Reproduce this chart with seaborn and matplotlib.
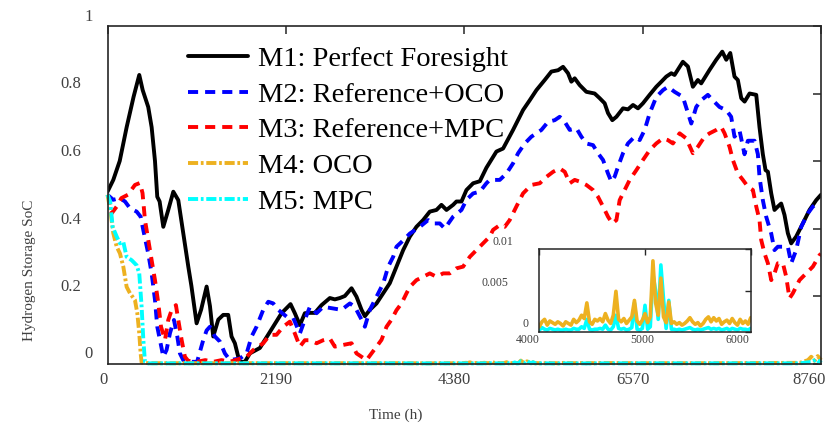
import numpy as np
import matplotlib
matplotlib.use("Agg")
import matplotlib.pyplot as plt
import matplotlib.transforms as mtrans
import seaborn as sns

# ---------------- data ----------------
m1_hours = [0, 71, 150, 235, 320, 390, 432, 500, 542, 583, 611, 640, 685, 746, 808, 869, 930, 992,
            1030, 1094, 1150, 1217, 1258, 1298, 1360, 1421, 1482, 1523, 1564, 1605, 1625, 1687, 1748,
            1871, 2034, 2137, 2247, 2300, 2362, 2423, 2485, 2546, 2628, 2730, 2791, 2853, 2914, 2996,
            3057, 3119, 3160, 3221, 3303, 3385, 3466, 3548, 3630, 3712, 3793, 3875, 3957, 4039, 4100,
            4162, 4243, 4284, 4346, 4407, 4489, 4571, 4652, 4775, 4857, 4979, 5102, 5184, 5266, 5368,
            5450, 5532, 5593, 5654, 5695, 5736, 5797, 5879, 5981, 6043, 6104, 6145, 6198, 6248, 6329,
            6390, 6452, 6513, 6574, 6656, 6738, 6800, 6860, 6922, 6962, 7064, 7126, 7187, 7248, 7289,
            7392, 7474, 7548, 7597, 7646, 7698, 7739, 7781, 7822, 7883, 7965, 8005, 8046, 8079, 8108,
            8149, 8189, 8230, 8271, 8312, 8353, 8394, 8455, 8537, 8619, 8701, 8760]
m1_soc = [0.509, 0.544, 0.60, 0.70, 0.79, 0.855, 0.81, 0.76, 0.70, 0.60, 0.494, 0.48, 0.405, 0.455,
          0.509, 0.484, 0.386, 0.287, 0.23, 0.119, 0.16, 0.228, 0.17, 0.08, 0.13, 0.144, 0.144, 0.08,
          0.06, 0.02, 0.005, 0.005, 0.03, 0.046, 0.109, 0.149, 0.176, 0.149, 0.114, 0.149, 0.15, 0.15,
          0.173, 0.194, 0.19, 0.194, 0.20, 0.223, 0.198, 0.159, 0.14, 0.159, 0.178, 0.208, 0.238,
          0.287, 0.336, 0.376, 0.405, 0.425, 0.45, 0.455, 0.47, 0.455, 0.47, 0.48, 0.48, 0.514, 0.534,
          0.54, 0.58, 0.628, 0.637, 0.692, 0.751, 0.78, 0.81, 0.84, 0.865, 0.869, 0.879, 0.86, 0.835,
          0.845, 0.825, 0.805, 0.80, 0.786, 0.771, 0.742, 0.721, 0.731, 0.756, 0.753, 0.766, 0.756,
          0.771, 0.796, 0.82, 0.835, 0.85, 0.86, 0.855, 0.894, 0.88, 0.82, 0.84, 0.83, 0.87, 0.90,
          0.924, 0.90, 0.92, 0.85, 0.84, 0.786, 0.776, 0.80, 0.796, 0.70, 0.62, 0.573, 0.568, 0.504,
          0.455, 0.465, 0.474, 0.44, 0.386, 0.356, 0.376, 0.415, 0.455, 0.484, 0.50]

m2_hours = [0, 70, 150, 215, 276, 358, 407, 439, 500, 542, 583, 611, 644, 685, 725, 767, 816, 857,
            889, 930, 1000, 1100, 1176, 1217, 1258, 1319, 1380, 1441, 1503, 1626, 1708, 1769, 1830,
            1912, 1974, 2035, 2096, 2198, 2280, 2362, 2423, 2485, 2567, 2648, 2771, 2873, 2976, 3037,
            3119, 3160, 3221, 3303, 3385, 3446, 3507, 3548, 3610, 3712, 3835, 3937, 3998, 4080, 4141,
            4243, 4346, 4407, 4489, 4571, 4652, 4693, 4816, 4898, 4979, 5041, 5123, 5204, 5327, 5409,
            5491, 5552, 5614, 5675, 5757, 5818, 5879, 5961, 6022, 6084, 6145, 6186, 6227, 6268, 6329,
            6390, 6472, 6534, 6595, 6656, 6738, 6820, 6881, 6962, 7064, 7167, 7228, 7289, 7371, 7432,
            7514, 7596, 7657, 7698, 7760, 7821, 7862, 7944, 7985, 8005, 8046, 8087, 8149, 8189, 8230,
            8292, 8353, 8394, 8455, 8517, 8599, 8660, 8720]
m2_soc = [0.50, 0.485, 0.49, 0.48, 0.46, 0.45, 0.435, 0.396, 0.326, 0.267, 0.188, 0.109, 0.07, 0.02,
          0.04, 0.09, 0.129, 0.08, 0.03, 0.01, 0.005, 0.005, 0.07, 0.098, 0.109, 0.08, 0.065, 0.03,
          0.01, 0.015, 0.03, 0.08, 0.109, 0.159, 0.183, 0.178, 0.159, 0.139, 0.135, 0.089, 0.13, 0.168,
          0.149, 0.168, 0.163, 0.159, 0.178, 0.168, 0.13, 0.109, 0.159, 0.198, 0.237, 0.287, 0.316,
          0.346, 0.36, 0.385, 0.405, 0.425, 0.415, 0.415, 0.40, 0.435, 0.455, 0.485, 0.504, 0.509,
          0.534, 0.544, 0.544, 0.563, 0.593, 0.623, 0.652, 0.672, 0.692, 0.716, 0.721, 0.731, 0.716,
          0.692, 0.697, 0.672, 0.652, 0.647, 0.623, 0.603, 0.563, 0.539, 0.554, 0.583, 0.623, 0.652,
          0.672, 0.662, 0.692, 0.741, 0.79, 0.81, 0.82, 0.805, 0.79, 0.711, 0.76, 0.78, 0.796, 0.78,
          0.76, 0.751, 0.731, 0.672, 0.69, 0.62, 0.66, 0.66, 0.62, 0.553, 0.484, 0.435, 0.385, 0.336,
          0.346, 0.346, 0.346, 0.297, 0.336, 0.405, 0.445, 0.465, 0.475]

m3_hours = [0, 51, 113, 170, 250, 337, 398, 430, 460, 500, 542, 583, 624, 657, 706, 746, 787, 840,
            869, 910, 950, 990, 1100, 1200, 1300, 1400, 1500, 1708, 1790, 1912, 1994, 2075, 2157, 2239,
            2300, 2362, 2423, 2485, 2567, 2648, 2730, 2791, 2894, 2996, 3057, 3119, 3180, 3242, 3303,
            3364, 3426, 3487, 3548, 3610, 3671, 3712, 3793, 3875, 3957, 4039, 4121, 4202, 4284, 4366,
            4448, 4530, 4612, 4693, 4734, 4816, 4877, 4938, 5020, 5102, 5204, 5307, 5389, 5471, 5552,
            5614, 5675, 5736, 5797, 5879, 5961, 6022, 6084, 6145, 6198, 6248, 6288, 6350, 6411, 6493,
            6574, 6656, 6738, 6820, 6880, 6942, 7024, 7105, 7187, 7248, 7330, 7392, 7474, 7535, 7576,
            7637, 7678, 7739, 7801, 7862, 7924, 7965, 8005, 8026, 8067, 8108, 8149, 8189, 8230, 8292,
            8333, 8373, 8414, 8496, 8578, 8660, 8742, 8760]
m3_soc = [0.50, 0.445, 0.465, 0.49, 0.50, 0.529, 0.535, 0.505, 0.425, 0.366, 0.306, 0.247, 0.178,
          0.109, 0.07, 0.129, 0.158, 0.173, 0.129, 0.07, 0.02, 0.008, 0.005, 0.01, 0.005, 0.01, 0.005,
          0.02, 0.04, 0.06, 0.085, 0.085, 0.109, 0.124, 0.089, 0.05, 0.069, 0.069, 0.06, 0.069, 0.074,
          0.05, 0.055, 0.06, 0.03, 0.02, 0.01, 0.03, 0.05, 0.07, 0.109, 0.13, 0.158, 0.178, 0.208,
          0.227, 0.247, 0.257, 0.267, 0.257, 0.267, 0.267, 0.282, 0.287, 0.316, 0.336, 0.356, 0.376,
          0.396, 0.41, 0.405, 0.425, 0.465, 0.504, 0.529, 0.534, 0.553, 0.568, 0.578, 0.568, 0.534,
          0.544, 0.539, 0.529, 0.514, 0.494, 0.465, 0.435, 0.415, 0.425, 0.484, 0.514, 0.544, 0.573,
          0.603, 0.632, 0.652, 0.667, 0.662, 0.652, 0.682, 0.667, 0.623, 0.642, 0.672, 0.682, 0.692,
          0.701, 0.682, 0.642, 0.603, 0.563, 0.544, 0.524, 0.514, 0.465, 0.425, 0.366, 0.326, 0.297,
          0.247, 0.267, 0.297, 0.297, 0.257, 0.193, 0.208, 0.247, 0.267, 0.287, 0.321, 0.325]

# OCO (M4) and MPC (M5): early drop, then near-zero behaviour
m4_early_hours = [0, 33, 71, 113, 153, 194, 235, 276, 337, 366, 390, 407, 419, 500, 1500, 2500, 3500]
m4_early_soc = [0.50, 0.456, 0.386, 0.346, 0.326, 0.287, 0.227, 0.208, 0.188, 0.149, 0.089, 0.03,
                0.003, 0.001, 0.001, 0.001, 0.001]
m4_late_hours = [6500, 7500, 8500, 8600, 8640, 8680, 8720, 8760]
m4_late_soc = [0.001, 0.001, 0.002, 0.01, 0.02, 0.008, 0.022, 0.01]

m5_early_hours = [0, 33, 63, 113, 153, 194, 235, 297, 358, 390, 419, 440, 460, 500, 1500, 2500, 3500]
m5_early_soc = [0.50, 0.48, 0.405, 0.376, 0.356, 0.36, 0.316, 0.306, 0.291, 0.267, 0.168, 0.07,
                0.005, 0.0005, 0.0005, 0.0005, 0.0005]
m5_late_hours = [6500, 7500, 8500, 8650, 8700, 8740, 8760]
m5_late_soc = [0.0005, 0.0005, 0.0005, 0.005, 0.012, 0.004, 0.01]

# zoomed window 4000-6000 h
inset_hours = list(range(4000, 6001, 25))
inset_m4 = [x * 1e-3 for x in [
    0.6, 1.2, 1.5, 0.8, 1.3, 1.1, 0.9, 1.2, 1.0, 0.7,
    1.2, 1.0, 0.8, 1.5, 1.1, 1.4, 2.0, 1.6, 3.5, 1.2,
    0.9, 1.5, 1.3, 1.6, 1.2, 2.2, 1.4, 1.0, 2.0, 4.9,
    1.5, 1.2, 1.6, 1.0, 1.4, 1.8, 3.8, 1.3, 0.9, 1.4,
    2.2, 1.1, 1.8, 8.6, 3.5, 2.0, 6.5, 1.8, 1.1, 3.6,
    1.0, 1.2, 0.9, 1.1, 0.8, 1.0, 1.3, 1.7, 1.2, 0.9,
    1.1, 0.7, 1.0, 1.5, 1.8, 1.2, 1.7, 1.3, 1.6, 0.9,
    1.2, 1.4, 1.0, 1.6, 1.1, 0.8, 1.5, 1.0, 1.3, 0.9, 1.7]]
inset_m5 = [x * 1e-3 for x in [
    0.2, 0.5, 0.3, 0.2, 0.4, 0.3, 0.2, 0.3, 0.2, 0.2,
    0.3, 0.2, 0.2, 0.4, 0.3, 0.3, 0.6, 0.4, 1.5, 0.3,
    0.2, 0.3, 0.3, 0.4, 0.3, 0.8, 0.3, 0.2, 0.6, 2.0,
    0.4, 0.3, 0.4, 0.2, 0.3, 0.5, 3.5, 0.3, 0.2, 0.4,
    3.2, 0.3, 0.6, 7.0, 5.0, 1.5, 8.1, 4.0, 0.4, 3.8,
    0.3, 0.3, 0.2, 0.3, 0.2, 0.3, 0.4, 0.5, 0.3, 0.2,
    0.3, 0.2, 0.3, 0.4, 0.5, 0.3, 0.4, 0.3, 0.4, 0.2,
    0.3, 0.4, 0.2, 0.4, 0.3, 0.2, 0.4, 0.3, 0.3, 0.2, 0.4]]

labels = ["M1: Perfect Foresight", "M2: Reference+OCO", "M3: Reference+MPC", "M4: OCO", "M5: MPC"]
x_ticks = [0, 2190, 4380, 6570, 8760]
y_ticks = [0, 0.2, 0.4, 0.6, 0.8, 1]
y_ticklabels = ["0", "0.2", "0.4", "0.6", "0.8", "1"]
inset_xticks = [4000, 5000, 6000]
inset_yticks = [0, 0.005, 0.01]
inset_yticklabels = ["0", "0.005", "0.01"]

m4_hours = m4_early_hours + inset_hours + m4_late_hours
m4_soc = m4_early_soc + inset_m4 + m4_late_soc
m5_hours = m5_early_hours + inset_hours + m5_late_hours
m5_soc = m5_early_soc + inset_m5 + m5_late_soc

# ---------------- style ----------------
sns.set_theme(style="white")
plt.rcParams["font.family"] = ["Liberation Serif", "DejaVu Serif"]

BLUE, RED, ORANGE, CYAN = "#0000FF", "#FF0000", "#EDB120", "#00FFFF"
LW = 2.8
SPINE = "#262626"
TXT = "#404040"

fig = plt.figure(figsize=(8.3, 4.29), dpi=100)
ax = fig.add_axes([107.5 / 830, 1 - 363.5 / 429, (821 - 107.5) / 830, (363.5 - 26) / 429])

styles = [
    (m1_hours, m1_soc, "black", "-"),
    (m2_hours, m2_soc, BLUE, (0, (2.6, 1.8))),
    (m3_hours, m3_soc, RED, (0, (2.6, 1.8))),
    (m4_hours, m4_soc, ORANGE, (0, (2.6, 0.7, 0.7, 0.7))),
    (m5_hours, m5_soc, CYAN, (0, (2.6, 0.7, 0.7, 0.7))),
]
for (h, s, c, ls), lab in zip(styles, labels):
    sns.lineplot(x=h, y=s, ax=ax, color=c, linestyle=ls, lw=LW, label=lab,
                 errorbar=None, sort=False, clip_on=(c in ("black", BLUE, RED)))

ax.set_xlim(0, 8760)
ax.set_ylim(0, 1)
ax.set_xticks(x_ticks)
ax.set_xticklabels([str(t) for t in x_ticks])
ax.set_yticks(y_ticks)
ax.set_yticklabels(y_ticklabels)
ax.set_xlabel("")
ax.set_ylabel("")
for sp in ax.spines.values():
    sp.set_color(SPINE)
    sp.set_linewidth(1.2)
    sp.set_visible(True)
ax.tick_params(direction="in", length=6, width=1.1, color=SPINE, top=True, right=True,
               labelsize=12, labelcolor=TXT)
ax.tick_params(axis="x", pad=6)
ax.tick_params(axis="y", pad=19)


def shift(label, dx, dy):
    label.set_transform(label.get_transform() +
                        mtrans.ScaledTranslation(dx / 100, dy / 100, fig.dpi_scale_trans))


for lab in ax.get_yticklabels():
    dx = 12 if len(lab.get_text()) == 1 else 0
    shift(lab, dx, 11)
for lab, dx in zip(ax.get_xticklabels(), [-4, -10, -10, -10, -12]):
    shift(lab, dx, 0)

leg = ax.legend(loc="upper left", bbox_to_anchor=(0.113, 0.94), frameon=False,
                fontsize=20.5, handlelength=2.1, handletextpad=0.35, labelspacing=0.34,
                borderpad=0, borderaxespad=0)
for t in leg.get_texts():
    t.set_color("black")

fig.text(30 / 830, 1 - 270 / 429, "Hydrogen Storage SoC", rotation=90, ha="center", va="center",
         fontsize=11, color=TXT)
fig.text(396 / 830, 1 - 415 / 429, "Time (h)", ha="center", va="center", fontsize=11, color=TXT)

# ---------------- inset ----------------
axi = fig.add_axes([539.3 / 830, 1 - 331.7 / 429, 211.4 / 830, 82.4 / 429])
sns.lineplot(x=inset_hours, y=inset_m5, ax=axi, color=CYAN, lw=2.6, errorbar=None, sort=False)
sns.lineplot(x=inset_hours, y=inset_m4, ax=axi, color=ORANGE, lw=2.6, errorbar=None, sort=False)
axi.set_xlim(4000, 6000)
axi.set_ylim(0, 0.01)
axi.set_xticks(inset_xticks)
axi.set_xticklabels([str(t) for t in inset_xticks])
axi.set_yticks(inset_yticks)
axi.set_yticklabels(inset_yticklabels)
axi.set_xlabel("")
axi.set_ylabel("")
for sp in axi.spines.values():
    sp.set_color(SPINE)
    sp.set_linewidth(1.1)
    sp.set_visible(True)
axi.tick_params(direction="in", length=4, width=1.0, color=SPINE, top=True, right=True,
                labelsize=8.5, labelcolor=TXT)
axi.tick_params(axis="x", pad=2)
axi.tick_params(axis="y", pad=8)
for lab, dx in zip(axi.get_yticklabels(), [0, -20, -15]):
    shift(lab, dx, 9)
for lab, dx in zip(axi.get_xticklabels(), [-12, -3, -13]):
    shift(lab, dx, 0)

fig.savefig("out.png", dpi=100)
